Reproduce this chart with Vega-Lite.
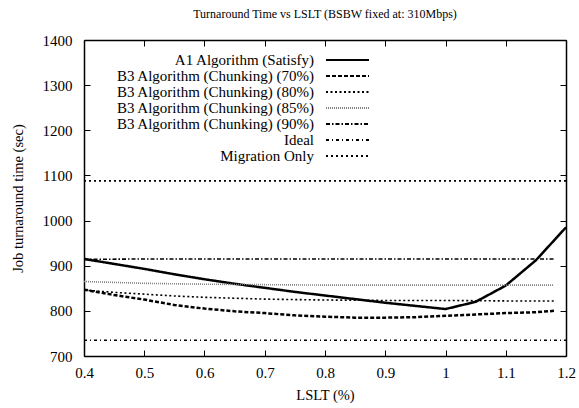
{
  "$schema": "https://vega.github.io/schema/vega-lite/v6.json",
  "width": 482,
  "height": 316,
  "autosize": {"type": "none"},
  "padding": {"left": 84, "top": 40, "right": 13, "bottom": 52},
  "background": "white",
  "title": {"text": "Turnaround Time vs LSLT (BSBW fixed at: 310Mbps)", "font": "Liberation Serif", "fontSize": 12, "fontWeight": "normal", "color": "black", "offset": 12, "anchor": "middle"},
  "config": {
    "font": "Liberation Serif",
    "view": {"stroke": null},
    "axis": {"domainColor": "black", "domainWidth": 1.5, "tickColor": "black", "tickSize": -6, "tickWidth": 1, "grid": false, "labelFont": "Liberation Serif", "labelFontSize": 15, "labelColor": "black", "labelFlush": false, "titleFont": "Liberation Serif", "titleFontSize": 14.5, "titleFontWeight": "normal", "titleColor": "black"},
    "legend": {"symbolType": "stroke", "symbolSize": 1849, "clipHeight": 15.3, "rowPadding": 0, "padding": 0, "labelAlign": "right", "labelOffset": -56, "labelFont": "Liberation Serif", "labelFontSize": 15, "labelColor": "black", "labelLimit": 400, "symbolStrokeWidth": 2}
  },
  "data": {"values": [
    {"s": "A1 Algorithm (Satisfy)", "x": 0.4, "y": 915},
    {"s": "A1 Algorithm (Satisfy)", "x": 0.45, "y": 904},
    {"s": "A1 Algorithm (Satisfy)", "x": 0.5, "y": 893},
    {"s": "A1 Algorithm (Satisfy)", "x": 0.55, "y": 881},
    {"s": "A1 Algorithm (Satisfy)", "x": 0.6, "y": 870},
    {"s": "A1 Algorithm (Satisfy)", "x": 0.65, "y": 860},
    {"s": "A1 Algorithm (Satisfy)", "x": 0.7, "y": 851},
    {"s": "A1 Algorithm (Satisfy)", "x": 0.75, "y": 842},
    {"s": "A1 Algorithm (Satisfy)", "x": 0.8, "y": 834},
    {"s": "A1 Algorithm (Satisfy)", "x": 0.85, "y": 826},
    {"s": "A1 Algorithm (Satisfy)", "x": 0.9, "y": 818},
    {"s": "A1 Algorithm (Satisfy)", "x": 0.95, "y": 811},
    {"s": "A1 Algorithm (Satisfy)", "x": 1.0, "y": 804},
    {"s": "A1 Algorithm (Satisfy)", "x": 1.05, "y": 820},
    {"s": "A1 Algorithm (Satisfy)", "x": 1.1, "y": 856},
    {"s": "A1 Algorithm (Satisfy)", "x": 1.15, "y": 912},
    {"s": "A1 Algorithm (Satisfy)", "x": 1.2, "y": 985},
    {"s": "B3 Algorithm (Chunking) (70%)", "x": 0.4, "y": 847},
    {"s": "B3 Algorithm (Chunking) (70%)", "x": 0.45, "y": 835},
    {"s": "B3 Algorithm (Chunking) (70%)", "x": 0.5, "y": 825},
    {"s": "B3 Algorithm (Chunking) (70%)", "x": 0.55, "y": 813},
    {"s": "B3 Algorithm (Chunking) (70%)", "x": 0.6, "y": 805},
    {"s": "B3 Algorithm (Chunking) (70%)", "x": 0.65, "y": 799},
    {"s": "B3 Algorithm (Chunking) (70%)", "x": 0.7, "y": 795},
    {"s": "B3 Algorithm (Chunking) (70%)", "x": 0.75, "y": 790},
    {"s": "B3 Algorithm (Chunking) (70%)", "x": 0.8, "y": 787},
    {"s": "B3 Algorithm (Chunking) (70%)", "x": 0.85, "y": 785},
    {"s": "B3 Algorithm (Chunking) (70%)", "x": 0.9, "y": 785},
    {"s": "B3 Algorithm (Chunking) (70%)", "x": 0.95, "y": 786},
    {"s": "B3 Algorithm (Chunking) (70%)", "x": 1.0, "y": 789},
    {"s": "B3 Algorithm (Chunking) (70%)", "x": 1.05, "y": 792},
    {"s": "B3 Algorithm (Chunking) (70%)", "x": 1.1, "y": 795},
    {"s": "B3 Algorithm (Chunking) (70%)", "x": 1.15, "y": 797},
    {"s": "B3 Algorithm (Chunking) (70%)", "x": 1.18, "y": 800},
    {"s": "B3 Algorithm (Chunking) (80%)", "x": 0.4, "y": 846},
    {"s": "B3 Algorithm (Chunking) (80%)", "x": 0.45, "y": 841},
    {"s": "B3 Algorithm (Chunking) (80%)", "x": 0.5, "y": 837},
    {"s": "B3 Algorithm (Chunking) (80%)", "x": 0.55, "y": 833},
    {"s": "B3 Algorithm (Chunking) (80%)", "x": 0.6, "y": 830},
    {"s": "B3 Algorithm (Chunking) (80%)", "x": 0.65, "y": 828},
    {"s": "B3 Algorithm (Chunking) (80%)", "x": 0.7, "y": 826},
    {"s": "B3 Algorithm (Chunking) (80%)", "x": 0.75, "y": 825},
    {"s": "B3 Algorithm (Chunking) (80%)", "x": 0.8, "y": 824},
    {"s": "B3 Algorithm (Chunking) (80%)", "x": 0.9, "y": 823},
    {"s": "B3 Algorithm (Chunking) (80%)", "x": 1.0, "y": 823},
    {"s": "B3 Algorithm (Chunking) (80%)", "x": 1.1, "y": 822},
    {"s": "B3 Algorithm (Chunking) (80%)", "x": 1.18, "y": 822},
    {"s": "B3 Algorithm (Chunking) (85%)", "x": 0.4, "y": 865},
    {"s": "B3 Algorithm (Chunking) (85%)", "x": 0.5, "y": 861},
    {"s": "B3 Algorithm (Chunking) (85%)", "x": 0.6, "y": 859},
    {"s": "B3 Algorithm (Chunking) (85%)", "x": 0.7, "y": 858},
    {"s": "B3 Algorithm (Chunking) (85%)", "x": 0.8, "y": 857},
    {"s": "B3 Algorithm (Chunking) (85%)", "x": 1.0, "y": 857},
    {"s": "B3 Algorithm (Chunking) (85%)", "x": 1.18, "y": 857},
    {"s": "B3 Algorithm (Chunking) (90%)", "x": 0.4, "y": 914},
    {"s": "B3 Algorithm (Chunking) (90%)", "x": 0.5, "y": 915},
    {"s": "B3 Algorithm (Chunking) (90%)", "x": 0.8, "y": 915},
    {"s": "B3 Algorithm (Chunking) (90%)", "x": 1.18, "y": 915},
    {"s": "Ideal", "x": 0.4, "y": 735},
    {"s": "Ideal", "x": 1.2, "y": 735},
    {"s": "Migration Only", "x": 0.4, "y": 1088},
    {"s": "Migration Only", "x": 1.2, "y": 1088}
  ]},
  "layer": [
    {
      "mark": {"type": "line", "clip": true},
      "encoding": {
        "x": {"field": "x", "type": "quantitative", "scale": {"domain": [0.4, 1.2], "nice": false, "zero": false},
              "axis": {"orient": "bottom", "values": [0.4, 0.5, 0.6, 0.7, 0.8, 0.9, 1, 1.1, 1.2], "format": "~g", "labelFont": "Liberation Serif", "titleFont": "Liberation Serif", "labelFlush": false, "labelPadding": 15, "title": "LSLT (%)", "titlePadding": 8}},
        "y": {"field": "y", "type": "quantitative", "scale": {"domain": [700, 1400], "nice": false, "zero": false},
              "axis": {"orient": "left", "values": [700, 800, 900, 1000, 1100, 1200, 1300, 1400], "format": "d", "labelFont": "Liberation Serif", "titleFont": "Liberation Serif", "labelPadding": 18, "title": "Job turnaround time (sec)", "titlePadding": 17}},
        "color": {"field": "s", "type": "nominal",
                  "scale": {"domain": ["A1 Algorithm (Satisfy)", "B3 Algorithm (Chunking) (70%)", "B3 Algorithm (Chunking) (80%)", "B3 Algorithm (Chunking) (85%)", "B3 Algorithm (Chunking) (90%)", "Ideal", "Migration Only"],
                            "range": ["black", "black", "black", "#808080", "black", "black", "black"]},
                  "legend": {"orient": "none", "legendX": 241, "legendY": 12.3, "title": null, "labelFont": "Liberation Serif", "encode": {"entries": {"update": {"width": {"value": 46}}}}}},
        "strokeDash": {"field": "s", "type": "nominal",
                  "scale": {"domain": ["A1 Algorithm (Satisfy)", "B3 Algorithm (Chunking) (70%)", "B3 Algorithm (Chunking) (80%)", "B3 Algorithm (Chunking) (85%)", "B3 Algorithm (Chunking) (90%)", "Ideal", "Migration Only"],
                            "range": [[1, 0], [4, 2], [2, 2.5], [1, 1], [4, 2, 1.5, 2], [3, 3, 1, 3], [2, 3]]},
                  "legend": {"orient": "none", "legendX": 241, "legendY": 12.3, "title": null, "labelFont": "Liberation Serif", "encode": {"entries": {"update": {"width": {"value": 46}}}}}},
        "strokeWidth": {"condition": {"test": "datum.s === 'A1 Algorithm (Satisfy)' || datum.s === 'B3 Algorithm (Chunking) (70%)'", "value": 2.5}, "value": 1.6}
      }
    },
    {
      "mark": {"type": "line", "opacity": 0},
      "encoding": {
        "x": {"field": "x", "type": "quantitative", "axis": {"orient": "top", "values": [0.4, 0.5, 0.6, 0.7, 0.8, 0.9, 1, 1.1, 1.2], "labels": false, "title": null}},
        "y": {"field": "y", "type": "quantitative", "axis": {"orient": "right", "values": [700, 800, 900, 1000, 1100, 1200, 1300, 1400], "labels": false, "title": null}},
        "detail": {"field": "s", "type": "nominal"}
      }
    }
  ]
}
